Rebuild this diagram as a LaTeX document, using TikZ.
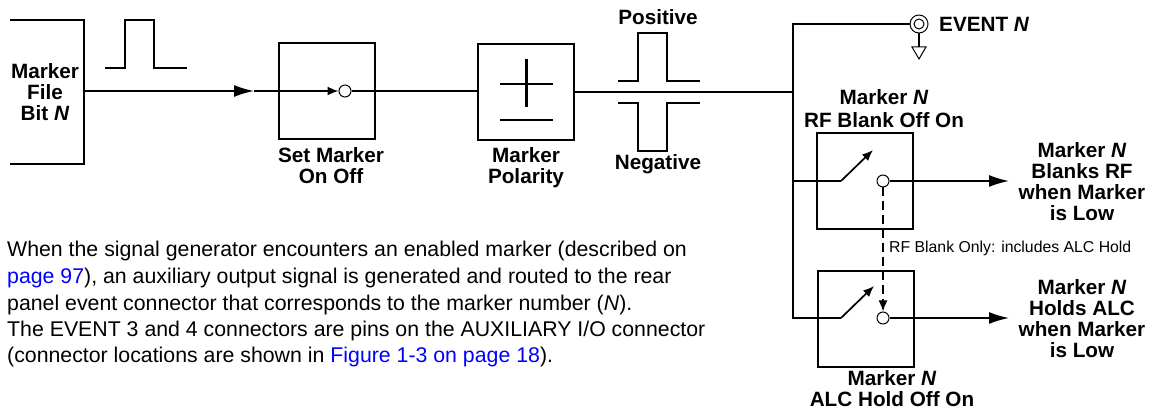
\documentclass[tikz,border=0pt]{standalone}
\usepackage{xcolor}
\usepackage{fontspec}
\setmainfont{Liberation Sans}
\usetikzlibrary{arrows.meta}
\definecolor{linkblue}{RGB}{0,0,255}
\tikzset{
  wire/.style={line width=1.7pt},
  feed/.style={wire,-{Latex[length=20pt,width=12pt]}},
  smallfeed/.style={wire,-{Latex[length=11pt,width=9pt]}},
  blockbox/.style={draw,line width=1.7pt,minimum size=96pt,inner sep=0pt},
  contact/.style={circle,draw,line width=1pt,fill=white,minimum size=12pt,inner sep=0pt},
  caption/.style={font=\bfseries\fontsize{20.7}{21}\selectfont,align=center,inner sep=0pt},
  bodytext/.style={font=\fontsize{21.3}{26}\selectfont,anchor=base west,inner sep=0pt},
}
\newcommand{\nn}{\textit{N}}
\begin{document}
\begin{tikzpicture}[x=1pt,y=-1pt]
    \useasboundingbox (0,0) rectangle (1158,411);

    % Marker file
    \coordinate (filetop) at (10,20);
    \coordinate (filebottom) at (10,164);
    \coordinate (fileout) at (84,91);
    \draw[wire] (filetop) -- (84,20) -- (84,164) -- (filebottom);
    \node[caption] (filebit) at (45,92) {Marker\\File\\Bit \nn};

    % Pulse above the input
    \draw[wire] (105,68) -- (125,68) -- (125,20) -- (154,20) -- (154,68) -- (187,68);

    % Set marker
    \node[blockbox] (setbox) at (327,91) {};
    \node[contact] (setpin) at (345,91) {};
    \coordinate (midline) at (254,91);
    \draw[feed] (fileout) -- (midline);
    \draw[smallfeed] (midline) -- (setpin);
    \node[caption] (setlabel) at (331,166) {Set Marker\\On Off};

    % Polarity
    \node[blockbox] (polbox) at (526,92) {};
    \draw[wire] (setpin) -- (setpin -| polbox.west);
    \draw[line width=2.4pt] (500,84) -- (553,84) (526.5,59) -- (526.5,107) (500,120) -- (553,120);
    \node[caption] (pollabel) at (526,168) {Marker\\Polarity};

    % Positive and negative pulses
    \node[caption] (poslabel) at (658,17) {Positive};
    \draw[wire] (618,81) -- (638,81) -- (638,33) -- (667,33) -- (667,81) -- (700,81);
    \draw[wire] (618,103) -- (638,103) -- (638,151) -- (667,151) -- (667,103) -- (700,103);
    \node[caption] (neglabel) at (658,164) {Negative};

    % Bus
    \coordinate (bustop) at (793,24);
    \coordinate (busmid) at (793,92);
    \coordinate (busrf) at (793,181);
    \coordinate (busalc) at (793,318);
    \draw[wire] (polbox) -- (busmid);

    % Event connector
    \node[circle,draw,line width=1pt,minimum size=18pt,inner sep=0pt] (eventpin) at (919,24) {};
    \node[circle,draw,line width=1pt,minimum size=10pt,inner sep=0pt] (eventcore) at (919,24) {};
    \coordinate (gndtop) at (919,47);
    \draw[wire] (busrf) -- (bustop) -- (eventpin);
    \draw[wire] (eventpin) -- (gndtop);
    \draw[line width=1pt] (912,47) -- (926,47) -- (919,59) -- cycle;
    \node[caption,anchor=west] (eventlabel) at (939,24) {EVENT \nn};

    % RF blank
    \node[caption] (rflabel) at (884,109) {Marker \nn\\[2pt]RF Blank Off On};
    \node[blockbox] (rfbox) at (865,181) {};
    \node[contact] (rfpin) at (883,181) {};
    \coordinate (rfarm) at (841,181);
    \coordinate (rfend) at (873,150);
    \coordinate (rfout) at (1009,181);
    \draw[wire] (busrf) -- (rfarm);
    \draw[smallfeed] (rfarm) -- (rfend);
    \draw[feed] (rfpin) -- (rfout);
    \node[caption] (rfnote) at (1082,182) {Marker \nn\\Blanks RF\\when Marker\\is Low};

    % ALC hold
    \node[blockbox] (alcbox) at (866,319) {};
    \node[contact] (alcpin) at (883,318) {};
    \coordinate (alcarm) at (841,318);
    \coordinate (alcend) at (874,286);
    \coordinate (alcout) at (1009,318);
    \draw[wire] (bustop) -- (busalc) -- (alcarm);
    \draw[smallfeed] (alcarm) -- (alcend);
    \draw[feed] (alcpin) -- (alcout);
    \node[caption] (alcnote) at (1082,319) {Marker \nn\\Holds ALC\\when Marker\\is Low};
    \node[caption] (alclabel) at (892,389) {Marker \nn\\ALC Hold Off On};

    % Link between the switches
    \draw[smallfeed,dash pattern=on 9pt off 5pt] (rfpin) -- (alcpin);
    \node[font=\fontsize{15.8}{18}\selectfont,anchor=west,inner sep=0pt] (onlylabel) at (889,248) {RF Blank Only: includes ALC Hold};

    % Text
    \node[bodytext] (line1) at (7,257) {When the signal generator encounters an enabled marker (described on};
    \node[bodytext] (line2) at (7,283.5) {\textcolor{linkblue}{page 97}), an auxiliary output signal is generated and routed to the rear};
    \node[bodytext] (line3) at (7,310) {panel event connector that corresponds to the marker number (\textit{N}).};
    \node[bodytext] (line4) at (7,336) {The EVENT 3 and 4 connectors are pins on the AUXILIARY I/O connector};
    \node[bodytext] (line5) at (7,362) {(connector locations are shown in \textcolor{linkblue}{Figure 1-3 on page 18}).};
\end{tikzpicture}
\end{document}
